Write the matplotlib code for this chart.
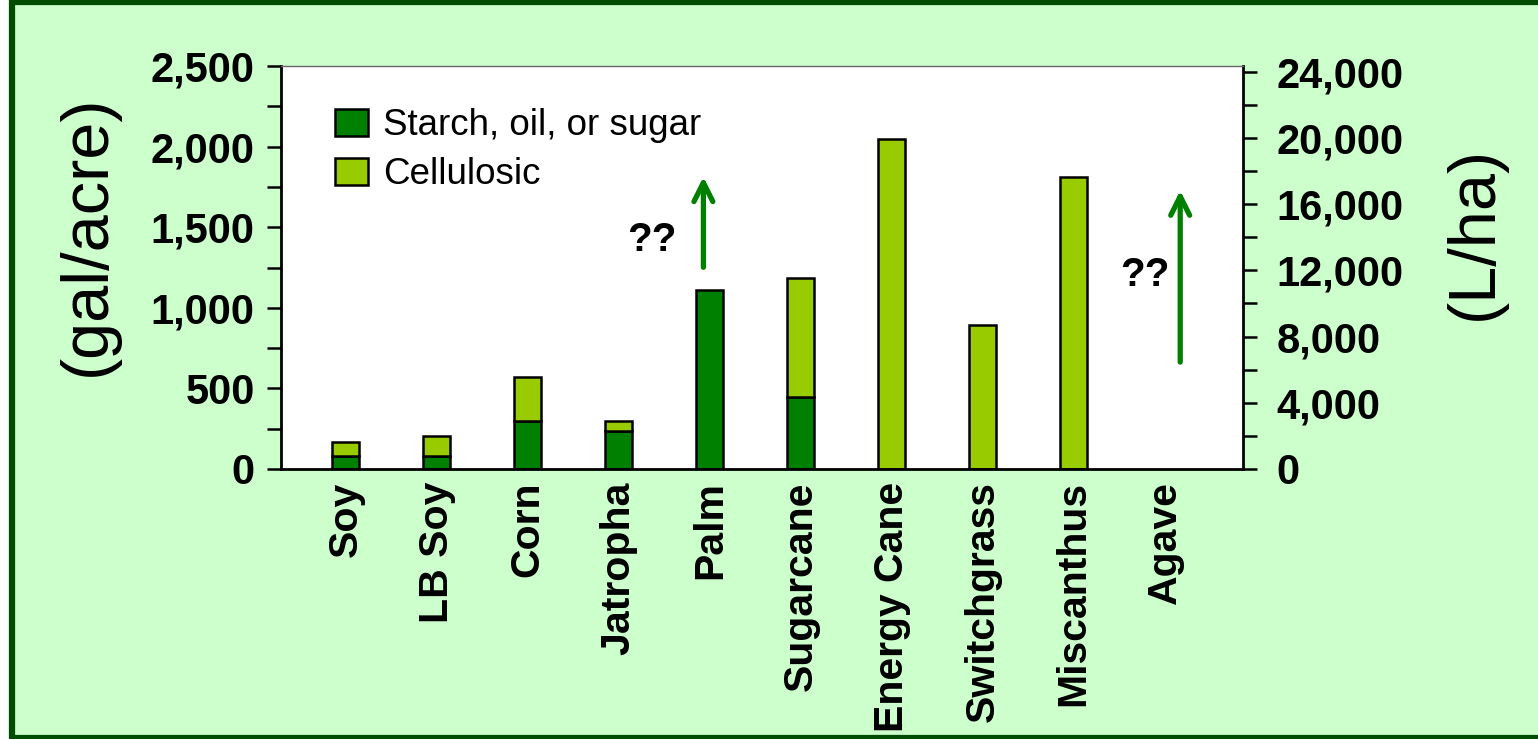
import numpy as np
import matplotlib
matplotlib.use("Agg")
import matplotlib.pyplot as plt
from matplotlib.patches import Rectangle

plt.rcParams['font.family'] = ['Liberation Sans', 'DejaVu Sans']

# data (gal/acre)
crops = ['Soy', 'LB Soy', 'Corn', 'Jatropha', 'Palm', 'Sugarcane',
         'Energy Cane', 'Switchgrass', 'Miscanthus', 'Agave']
starch = [82, 82, 298, 238, 1110, 449, 0, 0, 0, 0]
cellulosic = [83, 123, 275, 62, 0, 734, 2047, 893, 1810, 0]
# upward "??" arrows (x position, from, to) in gal/acre
arrow_x = [3.93, 9.17]
arrow_from = [1234, 646]
arrow_to = [1830, 1745]
qq_x = [3.36, 8.78]
qq_y = [1420, 1203]

dark = '#008000'
light = '#99cc00'
bg = '#ccffcc'

fig = plt.figure(figsize=(15.38, 7.39), dpi=100)
fig.patch.set_facecolor('white')
# slide frame
frame = Rectangle((12/1538, 1.5/739), 1.05, 735.5/739, transform=fig.transFigure,
                  facecolor=bg, edgecolor='#004d00', linewidth=4.5, zorder=-10)
fig.patches.append(frame)

ax = fig.add_axes([281/1538, 1 - 469/739, 962/1538, 403/739])
ax.set_facecolor('white')
x = np.arange(len(crops))
w = 0.30
# no outline on empty segments
ec1 = ['black' if v > 0 else 'none' for v in starch]
ec2 = ['black' if v > 0 else 'none' for v in cellulosic]
ax.bar(x, starch, w, color=dark, edgecolor=ec1, linewidth=1.8, label='Starch, oil, or sugar')
ax.bar(x, cellulosic, w, bottom=starch, color=light, edgecolor=ec2, linewidth=1.8, label='Cellulosic')

ax.set_xlim(-0.712, 9.86)
ax.set_ylim(0, 2500)
ax.set_yticks(np.arange(0, 2501, 500))
ax.set_yticks(np.arange(0, 2501, 250), minor=True)
ax.set_yticklabels([f'{v:,}' for v in range(0, 2501, 500)], fontsize=30, fontweight='bold')
ax.tick_params(axis='y', which='both', direction='out', length=10, width=1.8, pad=9)
ax.set_xticks(x)
ax.set_xticklabels(crops, rotation=90, fontsize=29.5, fontweight='bold', va='top')
ax.tick_params(axis='x', length=0, pad=9)

for s in ['left', 'right', 'bottom']:
    ax.spines[s].set_linewidth(2)
ax.spines['top'].set_color('#666666')
ax.spines['top'].set_linewidth(1)

for xa, y0, y1 in zip(arrow_x, arrow_from, arrow_to):
    ax.annotate('', xy=(xa, y1), xytext=(xa, y0),
                arrowprops=dict(arrowstyle='->', color=dark, lw=3.8, mutation_scale=34))
for xq, yq in zip(qq_x, qq_y):
    ax.text(xq, yq, '??', fontsize=29, fontweight='bold', ha='center', va='center')

ax.legend(loc='upper left', bbox_to_anchor=(0.056, 0.895), frameon=False, fontsize=26.5,
          borderpad=0, borderaxespad=0, handlelength=0.9, handleheight=0.72,
          labelspacing=0.38, handletextpad=0.42)

ax2 = ax.twinx()
ax2.set_ylim(0, 24350)
ax2.set_yticks(np.arange(0, 24001, 4000))
ax2.set_yticks(np.arange(0, 24001, 2000), minor=True)
ax2.set_yticklabels([f'{v:,}' for v in range(0, 24001, 4000)], fontsize=30, fontweight='bold')
ax2.tick_params(axis='y', which='both', direction='out', length=10, width=1.8, pad=14)
for s in ['left', 'right', 'bottom', 'top']:
    ax2.spines[s].set_visible(False)

fig.text(88/1538, 1 - 235/739, '(gal/acre)', rotation=90, fontsize=48, ha='center', va='center')
fig.text(1475/1538, 1 - 233/739, '(L/ha)', rotation=90, fontsize=48, ha='center', va='center')

fig.savefig('out.png', dpi=100, facecolor=fig.get_facecolor())
